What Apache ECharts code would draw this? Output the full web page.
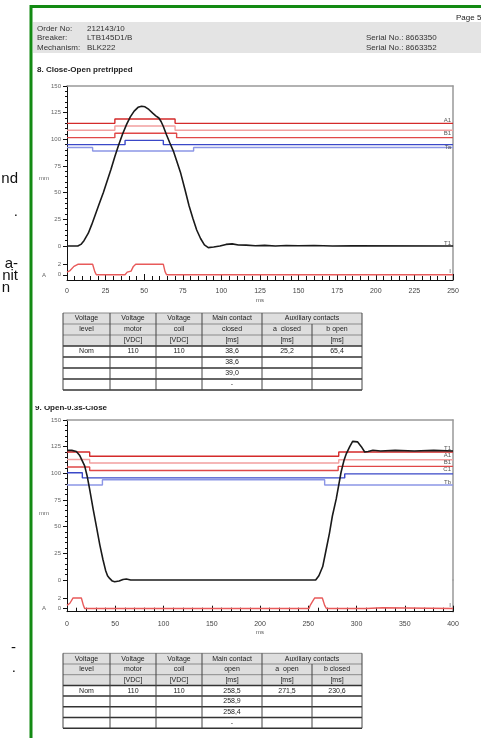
<!DOCTYPE html>
<html>
<head>
<meta charset="utf-8">
<script src="https://cdn.jsdelivr.net/npm/echarts@6/dist/echarts.min.js"></script>
<style>
  html, body { margin: 0; padding: 0; background: #fff; }
  #main { width: 481px; height: 738px; }
</style>
</head>
<body>
<div id="main"></div>
<script>
// ---- 8. Close-Open pretripped (ms, mm) ----
const travel1 = [[0, 0], [7, 0], [9, 1.5], [11, 5], [13.8, 12], [16, 20], [18.5, 30], [21, 40], [23.5, 50], [26, 61], [28.5, 72], [31, 84], [33.5, 95], [36, 105], [38.6, 114], [41, 121], [43.5, 126.5], [46, 130], [48.3, 131], [50.5, 130.5], [53, 128], [55.5, 124.5], [57.5, 122], [59.5, 120], [61, 116.5], [62.4, 112], [64.5, 104], [66.5, 97], [68.9, 89], [71, 80], [73.5, 69], [76.4, 53], [79, 38], [81.5, 26], [84, 15], [86.5, 7], [89, 1], [91.5, -1.5], [95, -1], [99, 0], [103, 1.5], [107, 2], [111, 1], [116, 0.8], [122, 0.2], [128, 0.6], [135, 0], [142, 0.5], [150, 0.2], [160, 0.4], [172, 0], [185, 0.2], [250, 0]]
const limA1_1 = [[0, 115], [31, 115], [31, 119], [70, 119], [70, 115], [250, 115]]
const limB1_1 = [[0, 108.5], [31, 108.5], [31, 112.5], [70, 112.5], [70, 108.5], [250, 108.5]]
const limC1_1 = [[0, 101.6], [31, 101.6], [31, 105.7], [71, 105.7], [71, 101.6], [250, 101.6]]
const limTa_1 = [[0, 95], [37.6, 95], [37.6, 99], [62.4, 99], [62.4, 95], [250, 95]]
const limTb_1 = [[0, 92.4], [16.6, 92.4], [16.6, 89], [82, 89], [82, 92.4], [250, 92.4]]
const current1 = [[0, 0.5], [2, 0.8], [4.5, 1.6], [7, 2], [16.6, 2], [18, 0.6], [19, 0], [37.6, 0], [39, 0.5], [41.5, 0.7], [43, 1.6], [44.5, 2], [62.4, 2], [63.5, 0.6], [64.5, 0], [250, 0]]

// ---- 9. Open-0.3s-Close (ms, mm) ----
const travel2 = [[0, 121.5], [5, 121.5], [9.7, 120.5], [13, 117], [18.3, 107], [21, 97], [23.5, 85], [27, 67], [30.5, 50], [34, 33], [37.3, 19], [40, 9], [42, 4], [44.2, 1.5], [47, -1], [49.4, -1.6], [54, -1], [58, 0.5], [61.5, 1], [66, 0], [75, 0], [257.7, 0], [261, 4], [265, 12.6], [268, 26], [272, 44], [275, 60], [279, 76], [284, 101], [287, 112], [289.5, 118.5], [293, 125], [296, 130], [298, 131], [301, 129.5], [305, 125], [308.5, 120], [312, 120.5], [317, 121.6], [325, 121], [340, 121.5], [360, 121], [380, 121.5], [400, 121]]
const limA1_2 = [[0, 120], [23.5, 120], [23.5, 116], [281.6, 116], [281.6, 120], [400, 120]]
const limB1_2 = [[0, 113], [23.5, 113], [23.5, 109.7], [281.6, 109.7], [281.6, 112.8], [400, 112.8]]
const limC1_2 = [[0, 106], [23.5, 106], [23.5, 102.7], [281, 102.7], [281, 106.5], [400, 106.5]]
const limTa_2 = [[0, 100.5], [15.9, 100.5], [15.9, 95.7], [287.8, 95.7], [287.8, 99.5], [400, 99.5]]
const limTb_2 = [[0, 89], [36.7, 89], [36.7, 94], [267, 94], [267, 89], [400, 89]]
const current2 = [[0, 0.6], [3, 1], [6.3, 2], [14.9, 2], [17, 0.6], [18.3, 0], [250.8, 0], [252, 0.6], [254, 1.2], [256.7, 2], [264.6, 2], [267, 0.6], [268.8, 0], [310, 0], [312, 0.15], [327, 0.15], [329, 0], [400, 0]]

// 表格
const colX = [63, 110, 156, 202, 262, 312, 362]
const headRow0 = ['Voltage', 'Voltage', 'Voltage', 'Main contact', 'Auxiliary contacts']
const headRow1a = ['level', 'motor', 'coil', 'closed', 'a  closed', 'b open']
const headRow1b = ['level', 'motor', 'coil', 'open', 'a  open', 'b closed']
const headRow2 = ['', '[VDC]', '[VDC]', '[ms]', '[ms]', '[ms]']
const body1 = [['Nom', '110', '110', '38,6', '25,2', '65,4'], ['', '', '', '38,6', '', ''], ['', '', '', '39,0', '', ''], ['', '', '', '-', '', '']]
const body2 = [['Nom', '110', '110', '258,5', '271,5', '230,6'], ['', '', '', '258,9', '', ''], ['', '', '', '258,4', '', ''], ['', '', '', '-', '', '']]

const FONT = 'Liberation Sans, Arial, sans-serif'
const C = {
  red1: '#d42a2a', pink: '#f2a0a0', red3: '#e04848',
  blue1: '#3a48c8', blue2: '#8c96e6', black: '#1a1a1a', cur: '#e85a5a'
}

function txt(x, y, text, o = {}) {
  return {
    type: 'text', x, y, silent: true,
    style: Object.assign({ text, fill: '#333', fontSize: 8, fontFamily: FONT, align: 'left', verticalAlign: 'middle' }, o)
  }
}
function ln(x1, y1, x2, y2, stroke, lineWidth = 1) {
  return { type: 'line', silent: true, shape: { x1, y1, x2, y2 }, style: { stroke, lineWidth } }
}

// 生成表格图形
function tableGraphics(top, rh, row1, body) {
  const els = []
  const left = colX[0]
  const right = colX[colX.length - 1]
  const rows = [row1, headRow2].concat(body)
  const bottom = top + rh * (rows.length + 1)
  els.push({ type: 'rect', silent: true, shape: { x: left, y: top, width: right - left, height: rh * 3 }, style: { fill: '#dedede' } })
  const spans = [[0, 1], [1, 2], [2, 3], [3, 4], [4, 6]]
  headRow0.forEach((t, i) => {
    els.push(txt((colX[spans[i][0]] + colX[spans[i][1]]) / 2, top + rh / 2, t, { align: 'center', fontSize: 7, fill: '#222' }))
  })
  rows.forEach((r, ri) => {
    r.forEach((t, j) => {
      if (t) els.push(txt((colX[j] + colX[j + 1]) / 2, top + rh * (ri + 1.5), t, { align: 'center', fontSize: 7, fill: '#222' }))
    })
  })
  for (let r = 0; r <= rows.length + 1; r++) {
    const y = top + r * rh
    els.push(ln(left, y, right, y, r < 3 ? '#8a8a8a' : '#333', r < 3 ? 1 : 1.5))
  }
  colX.forEach((x, j) => {
    els.push(ln(x, j === 5 ? top + rh : top, x, bottom, '#444', 1))
  })
  return els
}

function lineSeries(name, data, color, xi, yi, label, width = 1.4) {
  return {
    name, type: 'line', data, xAxisIndex: xi, yAxisIndex: yi,
    showSymbol: false, symbol: 'none', clip: false,
    lineStyle: { color, width }, itemStyle: { color },
    endLabel: label ? {
      show: true, formatter: '{a}', color: '#555', fontSize: 6, fontFamily: FONT,
      align: 'right', verticalAlign: label, distance: -2
    } : { show: false },
    animation: false
  }
}

const lblStyle = { fontSize: 6, color: '#666', fontFamily: FONT }
function leftAxis(gi, min, max, extra) {
  return Object.assign({
    type: 'value', gridIndex: gi, position: 'left', min, max,
    axisLine: { show: true, lineStyle: { color: '#111', width: 1 } },
    axisTick: { show: true, length: 4, lineStyle: { color: '#111' } },
    minorTick: { show: true, splitNumber: 5, length: 2, lineStyle: { color: '#111' } },
    axisLabel: Object.assign({ margin: 6 }, lblStyle),
    splitLine: { show: false }
  }, extra)
}
function rightAxis(gi) {
  return {
    type: 'value', gridIndex: gi, position: 'right', min: 0, max: 1,
    axisLine: { show: true, lineStyle: { color: '#999', width: 1.5 } },
    axisTick: { show: false }, axisLabel: { show: false }, splitLine: { show: false }
  }
}
function topAxis(gi, max) {
  return {
    type: 'value', gridIndex: gi, position: 'top', min: 0, max,
    axisLine: { show: true, onZero: false, lineStyle: { color: '#999', width: 1.5 } },
    axisTick: { show: false }, axisLabel: { show: false }, splitLine: { show: false }
  }
}
function bottomAxis(gi, max, interval, margin, gap) {
  return {
    type: 'value', gridIndex: gi, position: 'bottom', min: 0, max, interval,
    name: 'ms', nameLocation: 'middle', nameGap: gap,
    nameTextStyle: { fontSize: 6, color: '#555', fontFamily: FONT },
    axisLine: { show: true, onZero: false, lineStyle: { color: '#111', width: 1 } },
    axisTick: { show: true, inside: true, length: 6, lineStyle: { color: '#111' } },
    minorTick: { show: true, splitNumber: 5, length: 4, lineStyle: { color: '#111' } },
    axisLabel: { fontSize: 7, color: '#444', fontFamily: FONT, margin },
    splitLine: { show: false }
  }
}

const graphics = [
  // 页眉
  { type: 'rect', silent: true, shape: { x: 33, y: 22, width: 448, height: 31 }, style: { fill: '#e4e4e4' } },
  txt(456, 18, 'Page 5', { fontSize: 8, fill: '#222' }),
  txt(37, 29, 'Order No:'), txt(87, 29, '212143/10'),
  txt(37, 38, 'Breaker:'), txt(87, 38, 'LTB145D1/B'),
  txt(37, 48, 'Mechanism:'), txt(87, 48, 'BLK222'),
  txt(366, 38, 'Serial No.: 8663350'), txt(366, 48, 'Serial No.: 8663352'),
  txt(37, 70, '8. Close-Open pretripped', { fontWeight: 'bold', fill: '#222' }),
  txt(35, 408, '9. Open-0.3s-Close', { fontWeight: 'bold', fill: '#222' }),
  { type: 'rect', silent: true, shape: { x: 33, y: 395, width: 120, height: 11 }, style: { fill: '#fff' } },
  // 轴名
  txt(44, 178, 'mm', { fontSize: 6, fill: '#666', align: 'center' }),
  txt(44, 275, 'A', { fontSize: 6, fill: '#666', align: 'center' }),
  txt(44, 513, 'mm', { fontSize: 6, fill: '#666', align: 'center' }),
  txt(44, 608, 'A', { fontSize: 6, fill: '#666', align: 'center' }),
  // 绿色边框
  ln(31, 6.5, 481, 6.5, '#138a13', 3),
  ln(31, 5, 31, 738, '#138a13', 3),
  // 左侧残留文字
  txt(18, 179, 'nd', { fontSize: 15, fill: '#111', align: 'right' }),
  txt(18, 212, '.', { fontSize: 15, fill: '#111', align: 'right' }),
  txt(18, 264, 'a-', { fontSize: 15, fill: '#111', align: 'right' }),
  txt(18, 276, 'nit', { fontSize: 15, fill: '#111', align: 'right' }),
  txt(10, 288, 'n', { fontSize: 15, fill: '#111', align: 'right' }),
  txt(16, 648, '-', { fontSize: 15, fill: '#111', align: 'right' }),
  txt(16, 668, '.', { fontSize: 15, fill: '#111', align: 'right' })
].concat(tableGraphics(313, 11, headRow1a, body1), tableGraphics(653.3, 10.7, headRow1b, body2))

const chart = echarts.init(document.getElementById('main'), null, { renderer: 'canvas' })
chart.setOption({
  animation: false,
  textStyle: { fontFamily: FONT },
  grid: [
    { left: 67, top: 86, width: 386, height: 160 },
    { left: 67, top: 246, width: 386, height: 34 },
    { left: 67, top: 420, width: 386, height: 160 },
    { left: 67, top: 580, width: 386, height: 31.7 }
  ],
  xAxis: [
    topAxis(0, 250),
    bottomAxis(1, 250, 25, 8, 17),
    topAxis(2, 400),
    bottomAxis(3, 400, 50, 9, 18)
  ],
  yAxis: [
    leftAxis(0, 0, 150, { interval: 25 }),
    rightAxis(0),
    leftAxis(1, -1, 5.5, {
      minorTick: { show: false },
      axisTick: { show: true, length: 4, customValues: [0, 2], lineStyle: { color: '#111' } },
      axisLabel: Object.assign({ margin: 6, customValues: [0, 2] }, lblStyle)
    }),
    rightAxis(1),
    leftAxis(2, 0, 150, { interval: 25 }),
    rightAxis(2),
    leftAxis(3, -0.6, 5.4, {
      minorTick: { show: false },
      axisTick: { show: true, length: 4, customValues: [0, 2], lineStyle: { color: '#111' } },
      axisLabel: Object.assign({ margin: 6, customValues: [0, 2] }, lblStyle)
    }),
    rightAxis(3)
  ],
  series: [
    lineSeries('A1', limA1_1, C.red1, 0, 0, 'bottom'),
    lineSeries('B1', limB1_1, C.pink, 0, 0, 'top'),
    lineSeries('C1', limC1_1, C.red3, 0, 0, null),
    lineSeries('Ta', limTa_1, C.blue1, 0, 0, 'top'),
    lineSeries('Tb', limTb_1, C.blue2, 0, 0, null),
    lineSeries('T1', travel1, C.black, 0, 0, 'bottom', 1.6),
    lineSeries('I', current1, C.cur, 1, 2, 'bottom'),

    lineSeries('A1', limA1_2, C.red1, 2, 4, 'top'),
    lineSeries('B1', limB1_2, C.pink, 2, 4, 'top'),
    lineSeries('C1', limC1_2, C.red3, 2, 4, 'top'),
    lineSeries('Ta', limTa_2, C.blue1, 2, 4, null),
    lineSeries('Tb', limTb_2, C.blue2, 2, 4, 'bottom'),
    lineSeries('T1', travel2, C.black, 2, 4, 'bottom', 1.6),
    lineSeries('I', current2, C.cur, 3, 6, 'bottom')
  ],
  graphic: graphics
})
</script>
</body>
</html>
